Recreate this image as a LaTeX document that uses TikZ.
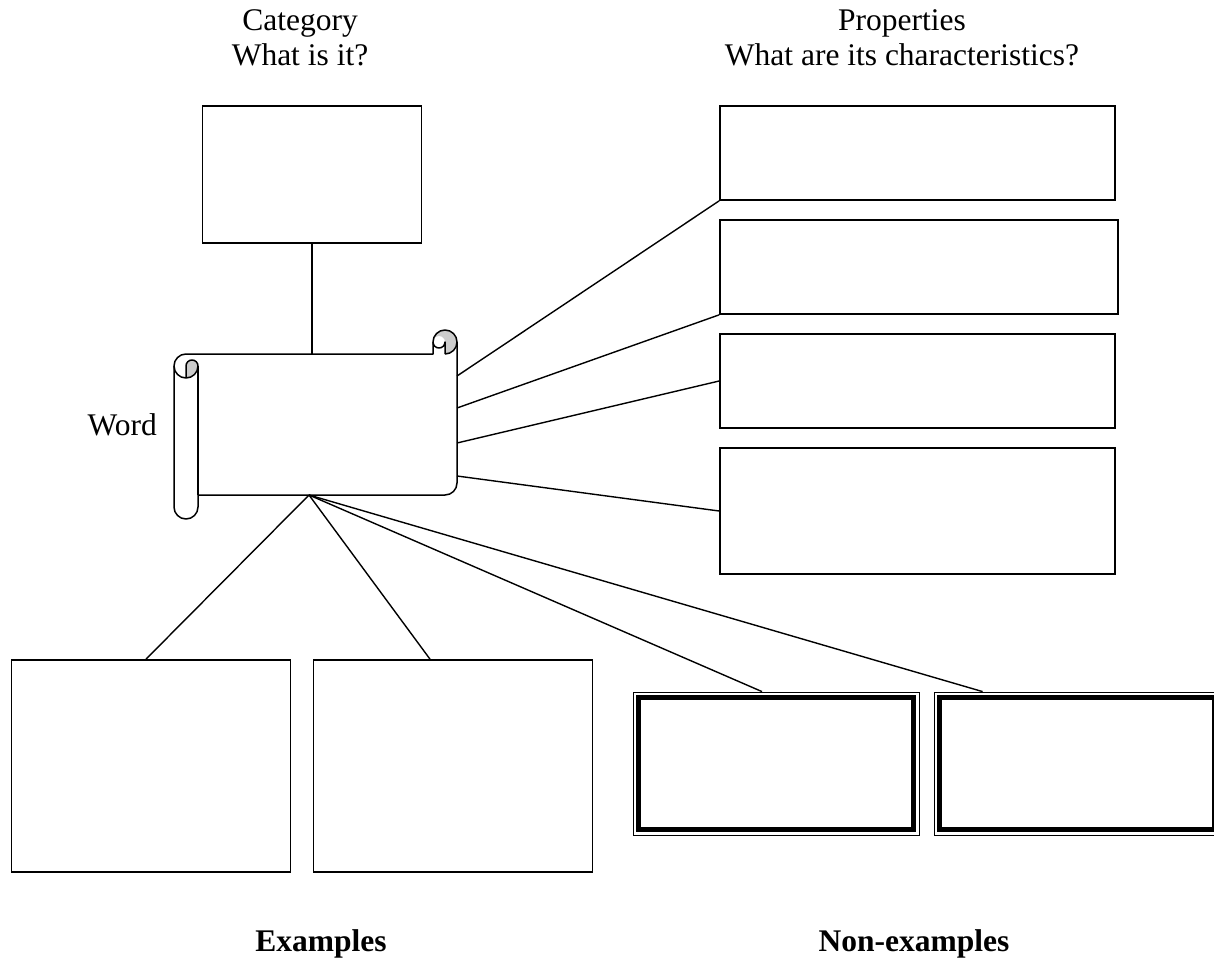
\documentclass[tikz,border=0pt]{standalone}
\usepackage{fontspec}
\setmainfont{Liberation Serif}
\usetikzlibrary{calc}

\begin{document}
\begin{tikzpicture}[x=1pt,y=1pt,yscale=-1,xscale=1,
    box/.style={draw, line width=1.7pt, fill=white, inner sep=0pt},
    nonex/.style={draw, line width=0.8pt, fill=white, inner sep=0pt, minimum width=286pt, minimum height=143pt},
    link/.style={line width=1.4pt},
    heading/.style={font=\fontsize{31.5}{35}\selectfont, align=center, inner sep=0pt},
    roll/.style={line width=1.5pt, line join=round}]
    \useasboundingbox (0,0) rectangle (1214,960);

    %Shape: Horizontal Scroll [id:word]
    \fill[white] (457,342) arc[start angle=0, end angle=90, radius=12] -- (186,354) arc[start angle=270, end angle=180, radius=12] -- (174,507) arc[start angle=180, end angle=0, radius=12] -- (198,495) -- (445,495) arc[start angle=90, end angle=0, radius=12] -- cycle ;
    \fill[black!20] (445,354) arc[start angle=90, end angle=-180, radius=12] arc[start angle=180, end angle=360, radius=6] -- cycle ;
    \fill[black!20] (186,378) arc[start angle=90, end angle=0, radius=12] arc[start angle=0, end angle=-180, radius=6] -- cycle ;
    \draw[roll] (174,366) arc[start angle=180, end angle=270, radius=12] -- (433,354) -- (433,342) arc[start angle=180, end angle=360, radius=12] -- (457,483) arc[start angle=0, end angle=90, radius=12] -- (198,495) -- (198,507) arc[start angle=0, end angle=180, radius=12] -- cycle ;
    \draw[roll] (445,354) arc[start angle=90, end angle=0, radius=12] ;
    \draw[roll] (445,354) -- (445,342) arc[start angle=0, end angle=180, radius=6] ;
    \draw[roll] (186,378) -- (186,366) arc[start angle=180, end angle=360, radius=6] arc[start angle=0, end angle=180, radius=12] ;
    \draw[roll] (198,366) -- (198,495) ;
    \coordinate (scroll-top) at (312,354);
    \coordinate (scroll-foot) at (309,495);
    \coordinate (scroll-r1) at (457,376);
    \coordinate (scroll-r2) at (457,408);
    \coordinate (scroll-r3) at (457,443);
    \coordinate (scroll-r4) at (457,476);

    %Shape: Rectangle [id:category]
    \node[box, minimum width=219pt, minimum height=137pt] (category) at (312,174.5) {};
    %Shape: Rectangle [id:prop1..prop4]
    \node[box, minimum width=395pt, minimum height=94pt] (prop1) at (917.5,153) {};
    \node[box, minimum width=398pt, minimum height=94pt] (prop2) at (919,267) {};
    \node[box, minimum width=395pt, minimum height=94pt] (prop3) at (917.5,381) {};
    \node[box, minimum width=395pt, minimum height=126pt] (prop4) at (917.5,511) {};
    %Shape: Rectangle [id:ex1, ex2]
    \node[box, minimum width=279pt, minimum height=212pt] (ex1) at (151,766) {};
    \node[box, minimum width=279pt, minimum height=212pt] (ex2) at (453,766) {};
    %Shape: Double Frame [id:nonex1, nonex2]
    \node[nonex] (nonex1) at (776,763.5) {};
    \draw[line width=4.5pt] ([shift={(6,6)}]nonex1.north west) rectangle ([shift={(-6,-6)}]nonex1.south east) ;
    \node[nonex] (nonex2) at (1077,763.5) {};
    \draw[line width=4.5pt] ([shift={(6,6)}]nonex2.north west) rectangle ([shift={(-6,-6)}]nonex2.south east) ;

    %Straight Lines
    \draw[link] (category.south) -- (scroll-top) ;
    \draw[link] (scroll-r1) -- (prop1.south west) ;
    \draw[link] (scroll-r2) -- (prop2.south west) ;
    \draw[link] (scroll-r3) -- (prop3.west) ;
    \draw[link] (scroll-r4) -- (prop4.west) ;
    \draw[link] (scroll-foot) -- ([xshift=-5pt]ex1.north) ;
    \draw[link] (scroll-foot) -- ([xshift=-23pt]ex2.north) ;
    \draw[link] (scroll-foot) -- ([xshift=-14pt]nonex1.north) ;
    \draw[link] (scroll-foot) -- ([xshift=49pt]nonex2.north west) ;

    % Text Node
    \node[heading, anchor=north] (cattext) at (300,9) {Category\\What is it?};
    % Text Node
    \node[heading, anchor=north] (proptext) at (902,9) {Properties\\What are its characteristics?};
    % Text Node
    \node[heading, anchor=base east] (wordtext) at (157,435) {Word};
    % Text Node
    \node[heading, anchor=base, font=\fontsize{31.5}{35}\selectfont\bfseries] (extext) at (321,951) {Examples};
    % Text Node
    \node[heading, anchor=base, font=\fontsize{31.5}{35}\selectfont\bfseries] (nonextext) at (914,951) {Non-examples};

\end{tikzpicture}
\end{document}
